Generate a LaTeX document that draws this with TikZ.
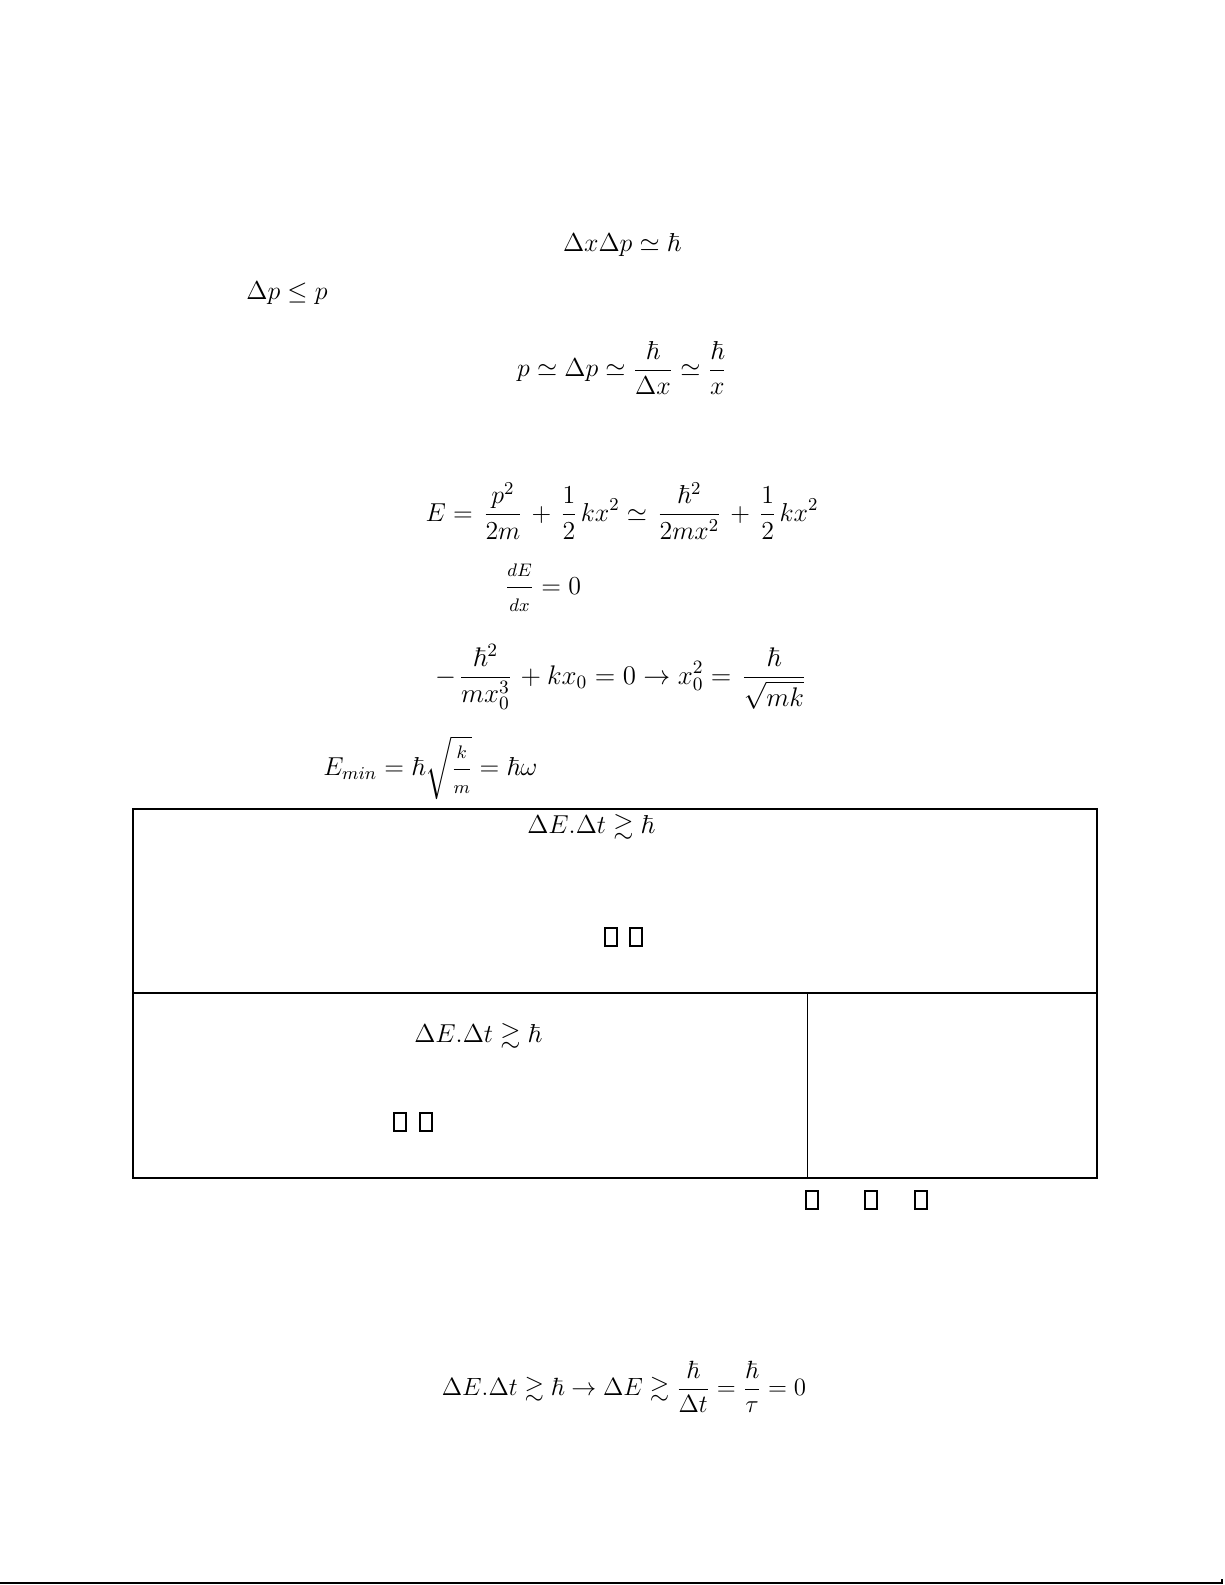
\RequirePackage{fix-cm}
\documentclass[tikz,border=0pt]{standalone}
\usepackage{amsmath,amssymb}
\begin{document}
\begin{tikzpicture}[x=0.5bp,y=-0.5bp,
  eq/.style={inner sep=0pt, font=\fontsize{13}{16}\selectfont},
  wide/.style={execute at begin node={\nulldelimiterspace=#1}},
  tofu/.style={draw, line width=1.1bp, inner sep=0pt, minimum width=6bp, minimum height=9bp},
  frame/.style={line width=0.75pt},
  inner/.style={line width=0.4pt}]
\useasboundingbox (0,0) rectangle (1225,1585);
\node[eq] (e1) at (622,245) {$\Delta x\Delta p \simeq \hbar$};
\node[eq, anchor=west] (e2) at (246,293) {$\Delta p \le p$};
\node[eq] (e3) at (622,368) {$\displaystyle p \simeq \Delta p \simeq \frac{\hbar}{\Delta x} \simeq \frac{\hbar}{x}$};
\node[eq, wide=2.75pt] (e4) at (622,511) {$\displaystyle E = \frac{p^2}{2m} + \frac{1}{2}kx^2 \simeq \frac{\hbar^2}{2mx^2} + \frac{1}{2}kx^2$};
\node[eq] (e5) at (543,588) {$\dfrac{\scriptstyle dE}{\scriptstyle dx} = 0$};
\node[eq, font=\fontsize{13.5}{16}\selectfont, wide=2.5pt] (e6) at (622,677) {$\displaystyle -\frac{\hbar^2}{mx_0^3} + kx_0 = 0 \rightarrow x_0^2 = \frac{\hbar}{\sqrt{mk}}$};
\node[eq, anchor=west] (e7) at (323,768) {$E_{min} = \hbar\sqrt{\dfrac{\scriptstyle k}{\scriptstyle m}} = \hbar\omega$};
% table
\draw[frame] (133,809) rectangle (1097,1178);
\draw[frame] (133,993) -- (1097,993);
\draw[inner] (807,993) -- (807,1178);
\node[eq] (b1) at (591,827) {$\Delta E.\Delta t \gtrsim \hbar$};
\node[tofu] (t1) at (611,937) {};
\node[tofu] (t2) at (636,937) {};
\node[eq] (b2) at (478,1036) {$\Delta E.\Delta t \gtrsim \hbar$};
\node[tofu] (t3) at (400,1122) {};
\node[tofu] (t4) at (426,1122) {};
\node[tofu] (t5) at (812,1200) {};
\node[tofu] (t6) at (871,1200) {};
\node[tofu] (t7) at (921,1200) {};
\node[eq, font=\fontsize{12.5}{15}\selectfont] (e8) at (624,1387) {$\displaystyle \Delta E.\Delta t \gtrsim \hbar \rightarrow \Delta E \gtrsim \frac{\hbar}{\Delta t} = \frac{\hbar}{\tau} = 0$};
\draw[frame] (0,1583) -- (1222,1583) -- (1222,1579);
\end{tikzpicture}
\end{document}
